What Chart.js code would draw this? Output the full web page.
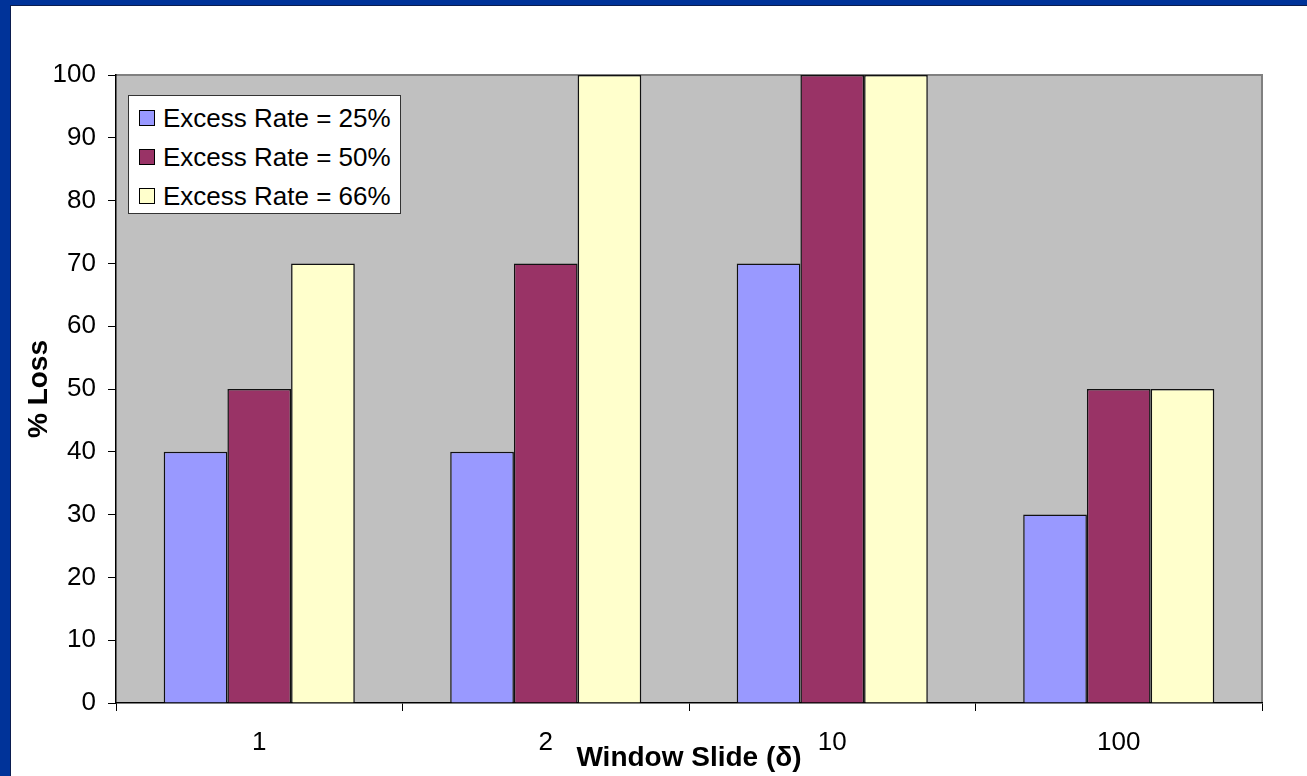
<!DOCTYPE html>
<html>
<head>
<meta charset="utf-8">
<script src="https://cdn.jsdelivr.net/npm/chart.js@4.4.1/dist/chart.umd.min.js"></script>
<style>
  html, body { margin: 0; padding: 0; background: #fff; }
  #wrap { position: relative; width: 1307px; height: 776px; overflow: hidden; }
  #chart { position: absolute; left: 0; top: 0; }
  .frame { position: absolute; background: #003399; }
  .frameEdge { position: absolute; background: #0b1d4f; }
  #legend {
    position: absolute; left: 128px; top: 95px; width: 271px; height: 117px;
    background: #fff; border: 1px solid #333;
    font-family: "Liberation Sans", Arial, sans-serif; font-size: 26px; color: #000;
  }
  #legend .item { position: absolute; left: 10px; height: 30px; line-height: 30px; white-space: nowrap; }
  #legend .swatch {
    display: inline-block; width: 14px; height: 14px; border: 1px solid #000;
    vertical-align: middle; margin-right: 8px; position: relative; top: -2px;
  }
</style>
</head>
<body>
<div id="wrap">
  <canvas id="chart" width="1307" height="776"></canvas>
  <div class="frame" style="left:0;top:0;width:1307px;height:5px"></div>
  <div class="frame" style="left:0;top:0;width:10px;height:776px"></div>
  <div class="frameEdge" style="left:10px;top:5px;width:1297px;height:1px"></div>
  <div class="frameEdge" style="left:10px;top:5px;width:1px;height:771px"></div>
  <div id="legend"></div>
</div>
<script>
const categories = ['1', '2', '10', '100'];
const seriesNames = ['Excess Rate = 25%', 'Excess Rate = 50%', 'Excess Rate = 66%'];
const rate25 = [40, 40, 70, 30];
const rate50 = [50, 70, 100, 50];
const rate66 = [70, 100, 100, 50];
const seriesColors = ['#9999FF', '#993366', '#FFFFCC'];

const FONT = '"Liberation Sans", Arial, sans-serif';

// grey plot background with the darker frame on top and right
const plotBackground = {
  id: 'plotBackground',
  beforeDraw(chart) {
    const { ctx, chartArea: a } = chart;
    ctx.save();
    ctx.fillStyle = '#C0C0C0';
    ctx.fillRect(a.left, a.top, a.right - a.left, a.bottom - a.top);
    ctx.strokeStyle = '#808080';
    ctx.lineWidth = 2;
    ctx.beginPath();
    ctx.moveTo(a.left, a.top);
    ctx.lineTo(a.right, a.top);
    ctx.lineTo(a.right, a.bottom);
    ctx.stroke();
    ctx.restore();
  }
};

const values = [rate25, rate50, rate66];
const datasets = seriesNames.map((name, i) => ({
  label: name,
  data: values[i],
  backgroundColor: seriesColors[i],
  borderColor: '#111',
  borderWidth: 1.5,
  borderSkipped: 'bottom',
  categoryPercentage: 0.667,
  barPercentage: 1.0
}));

new Chart(document.getElementById('chart'), {
  type: 'bar',
  data: { labels: categories, datasets },
  options: {
    responsive: false,
    animation: false,
    layout: { padding: { left: 11, top: 75, right: 45, bottom: 0 } },
    plugins: {
      legend: { display: false },
      tooltip: { enabled: false }
    },
    scales: {
      x: {
        grid: { drawOnChartArea: false, tickLength: 8, color: '#000', offset: true },
        border: { color: '#000', width: 1.5 },
        ticks: { color: '#000', font: { family: FONT, size: 26 }, padding: 16, maxRotation: 0 },
        title: {
          display: true, text: 'Window Slide (δ)', color: '#000',
          font: { family: FONT, size: 28, weight: 'bold' }, padding: { top: 0, bottom: 1 }
        },
        afterFit(scale) { scale.height = 776 - 703; }
      },
      y: {
        min: 0, max: 100,
        grid: { drawOnChartArea: false, tickLength: 8, color: '#000' },
        border: { color: '#000', width: 1.5 },
        ticks: { stepSize: 10, color: '#000', font: { family: FONT, size: 26 }, padding: 12 },
        title: {
          display: true, text: '% Loss', color: '#000',
          font: { family: FONT, size: 28, weight: 'bold' }, padding: { top: 11, bottom: 0 }
        },
        afterFit(scale) { scale.width = 116 - 11; }
      }
    }
  },
  plugins: [plotBackground]
});

// legend box inside the plot area
const legend = document.getElementById('legend');
seriesNames.forEach((name, i) => {
  const item = document.createElement('div');
  item.className = 'item';
  item.style.top = (7 + i * 39) + 'px';
  const sw = document.createElement('span');
  sw.className = 'swatch';
  sw.style.background = seriesColors[i];
  item.appendChild(sw);
  item.appendChild(document.createTextNode(name));
  legend.appendChild(item);
});
</script>
</body>
</html>
